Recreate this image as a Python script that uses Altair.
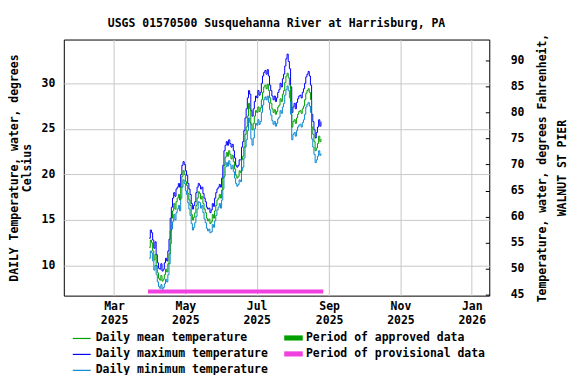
import altair as alt
import pandas as pd

# ---------------- data ----------------
start_date = "2025-03-31"

mean_c = [
    12.0, 12.8, 12.5, 11.6, 10.6, 11.2, 10.0, 9.2, 8.6, 8.4,
    8.9, 8.3, 8.5, 9.0, 9.6, 9.3, 10.2, 11.3, 13.8, 15.2,
    16.0, 16.8, 16.2, 17.0, 17.4, 17.8, 17.2, 18.6, 19.8, 20.4,
    20.0, 19.2, 18.8, 17.9, 17.2, 16.6, 15.6, 15.0, 15.3, 15.8,
    16.6, 17.4, 18.1, 17.9, 17.3, 17.6, 16.8, 16.2, 15.8, 15.2,
    14.9, 15.1, 14.6, 14.8, 15.6, 15.2, 16.0, 16.6, 17.2, 17.4,
    17.8, 17.4, 18.3, 19.6, 21.0, 21.9, 22.4, 22.0, 22.6, 22.2,
    21.7, 22.1, 21.4, 20.6, 19.9, 19.6, 19.8, 20.4, 20.2, 21.6,
    22.0, 23.0, 24.4, 25.2, 26.4, 27.8, 27.2, 25.5, 24.9, 25.6,
    26.4, 27.0, 26.8, 27.4, 26.9, 27.3, 28.2, 29.0, 29.6, 29.8,
    29.4, 29.9, 29.2, 28.4, 27.8, 27.2, 26.8, 27.1, 26.6, 26.9,
    27.4, 27.6, 28.3, 28.0, 28.8, 29.2, 30.1, 30.8, 31.1, 30.6,
    29.8, 28.0, 25.2, 25.8, 26.0, 25.6, 26.2, 26.6, 26.9, 27.0,
    26.7, 27.2, 27.5, 28.2, 28.9, 29.2, 29.4, 29.0, 28.2, 25.2,
    24.4, 23.6, 22.6, 22.9, 23.4, 24.2, 23.6, 23.9,
]

max_c = [
    13.0, 13.9, 13.6, 12.8, 11.9, 12.6, 11.2, 10.3, 9.7, 9.6,
    10.2, 9.4, 9.6, 10.3, 10.8, 10.5, 11.6, 12.9, 15.2, 16.4,
    17.4, 18.0, 17.6, 18.4, 18.6, 19.0, 18.6, 20.0, 21.0, 21.4,
    21.1, 20.4, 19.9, 19.0, 18.4, 17.8, 16.8, 16.2, 16.6, 17.0,
    18.0, 18.6, 19.0, 18.8, 18.4, 18.6, 17.9, 17.4, 17.0, 16.4,
    16.2, 16.3, 15.8, 16.1, 16.8, 16.5, 17.4, 18.0, 18.4, 18.6,
    18.9, 18.6, 19.6, 21.0, 22.6, 23.2, 23.6, 23.2, 23.8, 23.4,
    23.0, 23.3, 22.6, 21.8, 21.0, 20.8, 21.0, 21.6, 21.6, 23.0,
    23.6, 24.8, 26.2, 27.2, 28.4, 29.2, 28.8, 27.0, 26.4, 27.2,
    28.0, 28.6, 28.4, 29.2, 28.7, 29.0, 30.0, 30.8, 31.2, 31.4,
    31.0, 31.5, 30.8, 29.8, 29.2, 28.6, 28.2, 28.6, 28.0, 28.4,
    29.0, 29.3, 30.0, 29.6, 30.5, 31.0, 31.9, 32.7, 33.2, 32.4,
    31.6, 29.6, 26.8, 27.4, 27.8, 27.2, 27.9, 28.3, 28.6, 28.7,
    28.4, 29.0, 29.4, 30.0, 30.7, 31.0, 31.3, 30.8, 29.8, 26.6,
    25.8, 24.9, 24.0, 24.6, 25.2, 26.0, 25.3, 25.8,
]

min_c = [
    10.8, 11.6, 11.4, 10.5, 9.5, 10.0, 9.0, 8.2, 7.7, 7.5,
    7.9, 7.4, 7.6, 8.0, 8.5, 8.2, 9.0, 10.2, 12.4, 14.0,
    14.8, 15.6, 15.0, 15.8, 16.2, 16.6, 16.0, 17.4, 18.6, 19.4,
    19.0, 18.2, 17.8, 16.9, 16.2, 15.5, 14.6, 13.9, 14.2, 14.7,
    15.4, 16.2, 17.0, 16.9, 16.3, 16.6, 15.8, 15.1, 14.7, 14.1,
    13.8, 14.0, 13.6, 13.7, 14.5, 14.2, 14.9, 15.5, 16.1, 16.4,
    16.8, 16.3, 17.2, 18.4, 19.8, 20.8, 21.3, 20.9, 21.5, 21.1,
    20.6, 21.0, 20.3, 19.6, 19.0, 18.7, 18.9, 19.4, 19.2, 20.4,
    20.8, 21.8, 23.0, 23.8, 24.8, 26.2, 25.7, 23.9, 23.2, 24.0,
    25.0, 25.6, 25.4, 26.0, 25.5, 25.8, 26.8, 27.6, 28.2, 28.5,
    28.2, 28.6, 27.9, 27.1, 26.5, 25.9, 25.5, 25.8, 25.3, 25.6,
    26.1, 26.3, 27.0, 26.7, 27.4, 27.8, 28.7, 29.3, 29.7, 29.2,
    28.4, 26.6, 23.8, 24.4, 24.6, 24.2, 24.8, 25.2, 25.4, 25.5,
    25.2, 25.7, 26.0, 26.6, 27.4, 27.7, 27.9, 27.5, 26.8, 23.9,
    23.0, 22.2, 21.3, 21.6, 22.0, 22.6, 22.1, 22.3,
]

series_names = ["Daily mean temperature", "Daily maximum temperature", "Daily minimum temperature"]
series_colors = ["#00a000", "#0000ff", "#0a88d0"]

period_names = ["Period of approved data", "Period of provisional data"]
period_colors = ["#00a000", "#f040e0"]
provisional_start = "2025-03-30"
provisional_end = "2025-08-27"
period_bar_c = 7.16

c_ticks = [10, 15, 20, 25, 30]
f_ticks = [45, 50, 55, 60, 65, 70, 75, 80, 85, 90]
month_ticks = [(2025, 3), (2025, 5), (2025, 7), (2025, 9), (2025, 11), (2026, 1)]

title_text = "USGS 01570500 Susquehanna River at Harrisburg, PA"
left_title = ["DAILY Temperature, water, degrees", "Celsius"]
right_title = ["Temperature, water, degrees Fahrenheit,", "WALNUT ST PIER"]

# ---------------- tables ----------------
dates = pd.date_range(start_date, periods=len(mean_c)).strftime("%Y-%m-%d")
df = pd.concat([
    pd.DataFrame({"date": dates, "series": series_names[1], "value": max_c}),
    pd.DataFrame({"date": dates, "series": series_names[2], "value": min_c}),
    pd.DataFrame({"date": dates, "series": series_names[0], "value": mean_c}),
])
period_df = pd.DataFrame({"start": [provisional_start], "end": [provisional_end],
                          "period": [period_names[1]], "c": [period_bar_c]})
f_df = pd.DataFrame({"f": f_ticks})

FONT = "DejaVu Sans Mono"
FS = 11.5

x_scale = alt.Scale(type="utc", domain=[alt.DateTime(year=2025, month=1, date=17, utc=True),
                                        alt.DateTime(year=2026, month=1, date=16, utc=True)])
x_axis = alt.Axis(values=[alt.DateTime(year=y, month=m, date=1, utc=True) for y, m in month_ticks],
                  labelExpr="[utcFormat(datum.value, '%b'), utcFormat(datum.value, '%Y')]",
                  title=None, grid=True, ticks=False, domain=False, labelPadding=5,
                  labelLineHeight=13.5)
c_scale = alt.Scale(domain=[6.7, 34.8], nice=False, zero=False)

lines = alt.Chart(df).mark_line(strokeWidth=1, interpolate="step-after").encode(
    x=alt.X("date:T", scale=x_scale, axis=x_axis),
    y=alt.Y("value:Q", scale=c_scale,
            axis=alt.Axis(values=c_ticks, title=left_title, grid=True, ticks=False,
                          domain=False, labelPadding=9, titlePadding=9,
                          titleLineHeight=13)),
    color=alt.Color("series:N", scale=alt.Scale(domain=series_names, range=series_colors),
                    legend=alt.Legend(title=None, orient="none", legendX=8, legendY=290,
                                      direction="vertical", symbolType="stroke",
                                      symbolSize=324, symbolStrokeWidth=1.2,
                                      labelFont=FONT, labelFontSize=FS, labelFontWeight="bold",
                                      labelColor="black", labelOffset=4, padding=0,
                                      rowPadding=0, labelLimit=0)),
    detail="series:N",
)

bar = alt.Chart(period_df).mark_rule(strokeWidth=4).encode(
    x=alt.X("start:T", scale=x_scale, axis=x_axis),
    x2="end:T",
    y=alt.Y("c:Q", scale=c_scale, axis=None),
    color=alt.Color("period:N", scale=alt.Scale(domain=period_names, range=period_colors),
                    legend=alt.Legend(title=None, orient="none", legendX=221, legendY=290,
                                      direction="vertical",
                                      symbolType="M-1,-0.16H1V0.16H-1Z",
                                      symbolSize=256, symbolStrokeWidth=2.6,
                                      labelFont=FONT, labelFontSize=FS, labelFontWeight="bold",
                                      labelColor="black", labelOffset=3, padding=0,
                                      rowPadding=0, labelLimit=0)),
)

right = alt.Chart(f_df).mark_point(opacity=0).encode(
    y=alt.Y("f:Q", scale=alt.Scale(domain=[44.81, 94.02], nice=False, zero=False),
            axis=alt.Axis(orient="right", values=f_ticks, title=right_title, grid=False,
                          domain=False, ticks=True, tickSize=4, tickColor="black",
                          offset=-4, labelPadding=21, titlePadding=4, titleAngle=270,
                          titleLineHeight=20)),
)

chart = alt.layer(lines, bar, right).resolve_scale(
    y="independent", color="independent"
).properties(
    width=427, height=257,
    title=alt.TitleParams(title_text, font=FONT, fontSize=FS, fontWeight="bold",
                          anchor="middle", offset=4, color="black"),
    autosize=alt.AutoSizeParams(type="none"),
    padding={"left": 56, "top": 31, "right": 79, "bottom": 79},
).configure_view(
    stroke="black", strokeWidth=1
).configure_axis(
    labelFont=FONT, labelFontSize=FS, labelFontWeight="bold", labelColor="black",
    titleFont=FONT, titleFontSize=FS, titleFontWeight="bold", titleColor="black",
    gridColor="#c8c8c8", gridWidth=1
)

chart.save("out.html", embed_options={"renderer": "svg", "actions": False})
